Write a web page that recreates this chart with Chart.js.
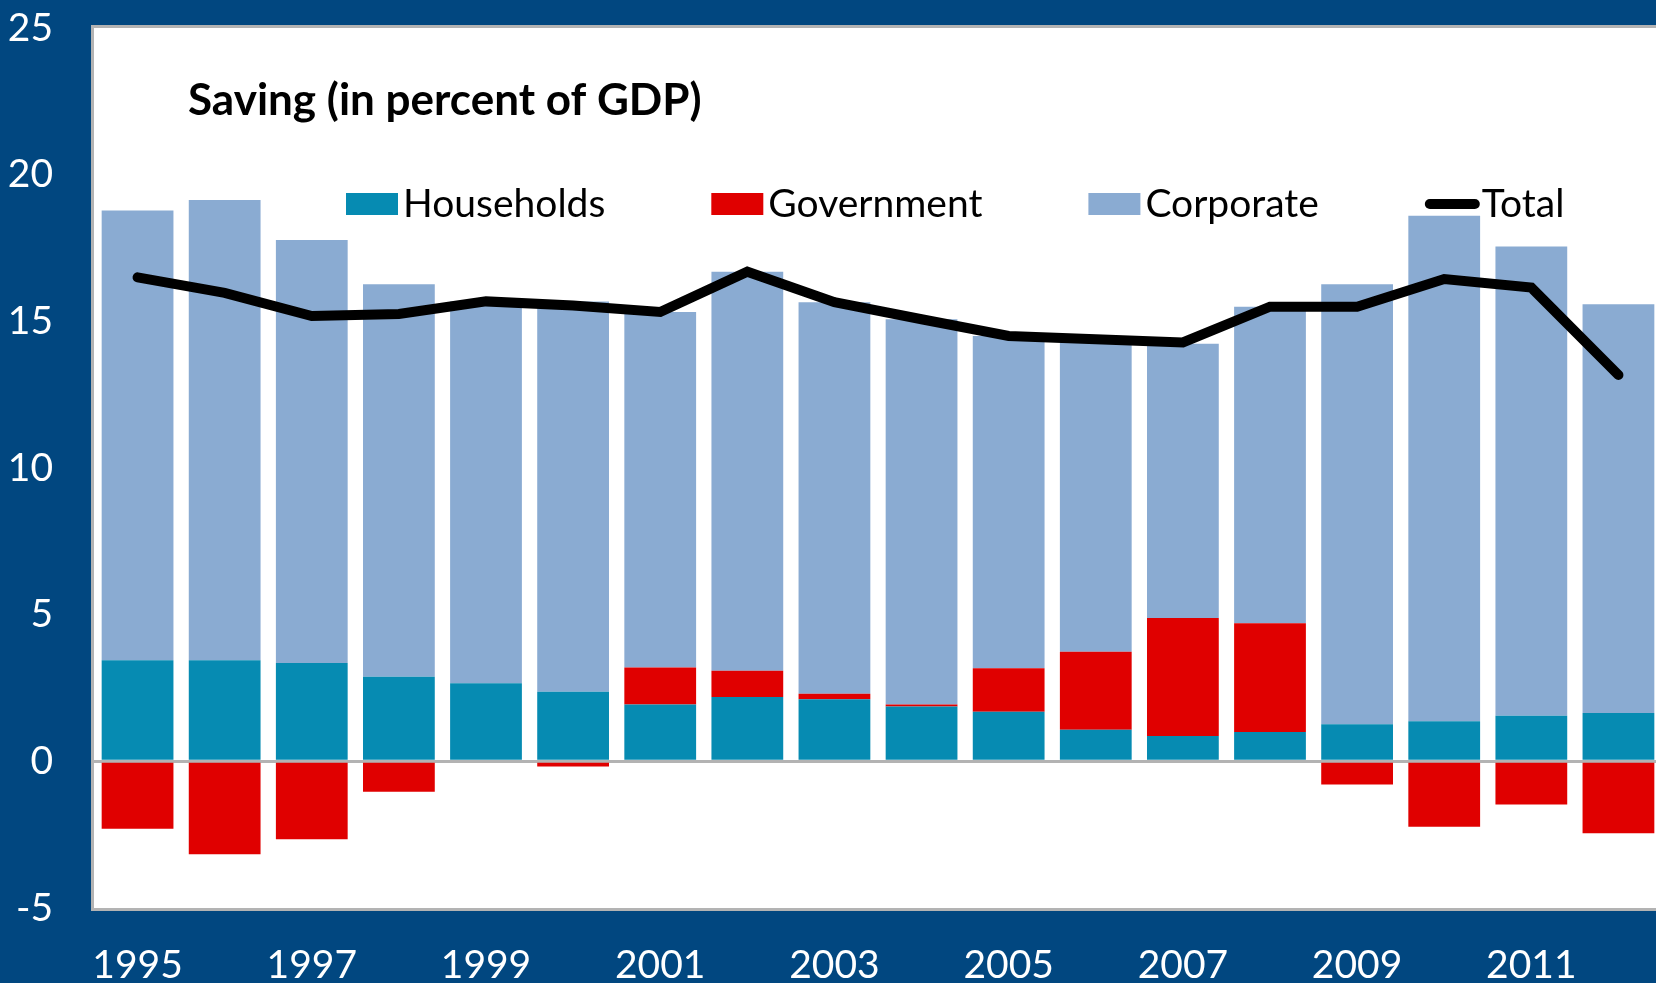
<!DOCTYPE html>
<html>
<head>
<meta charset="utf-8">
<title>Saving (in percent of GDP)</title>
<script src="https://cdn.jsdelivr.net/npm/chart.js@4.4.1/dist/chart.umd.min.js"></script>
<style>
  html, body { margin: 0; padding: 0; background: #014780; overflow: hidden; }
  canvas { display: block; }
</style>
</head>
<body>
<canvas id="savingChart" width="1662" height="983"></canvas>
<script>
// Saving by sector, percent of GDP
const years = ['1995', '1996', '1997', '1998', '1999', '2000', '2001', '2002', '2003',
  '2004', '2005', '2006', '2007', '2008', '2009', '2010', '2011', '2012'];

const households = [3.45, 3.45, 3.35, 2.88, 2.66, 2.37, 1.94, 2.19, 2.12,
  1.87, 1.69, 1.08, 0.86, 1.00, 1.26, 1.37, 1.55, 1.65];
const government = [-2.30, -3.17, -2.66, -1.04, 0.0, -0.18, 1.26, 0.90, 0.18,
  0.07, 1.48, 2.66, 4.03, 3.71, -0.79, -2.23, -1.47, -2.45];
const corporate = [15.33, 15.69, 14.42, 13.38, 13.02, 13.31, 12.12, 13.60, 13.35,
  13.13, 11.33, 10.61, 9.35, 10.79, 15.00, 17.23, 16.00, 13.93];
const total = [16.50, 15.97, 15.18, 15.25, 15.68, 15.54, 15.32, 16.69, 15.65,
  15.07, 14.50, 14.39, 14.28, 15.50, 15.50, 16.44, 16.15, 13.17];

const yTicks = { min: -5, max: 25, step: 5 };
const chartTitle = 'Saving (in percent of GDP)';

const FONT = 'Lato';

// white plot area with a grey frame
const plotFrame = {
  id: 'plotFrame',
  beforeDraw(chart) {
    const { ctx, chartArea: a } = chart;
    ctx.save();
    ctx.fillStyle = '#ffffff';
    ctx.fillRect(a.left, a.top, a.right - a.left, a.bottom - a.top);
    ctx.strokeStyle = '#b3b3b3';
    ctx.lineWidth = 3;
    ctx.strokeRect(a.left - 1.5, a.top - 1.5, a.right - a.left + 3, a.bottom - a.top + 3);
    ctx.restore();
  }
};

// title and legend sit inside the plot area
const chartHeader = {
  id: 'chartHeader',
  afterDraw(chart) {
    const { ctx } = chart;
    ctx.save();
    ctx.textBaseline = 'alphabetic';
    ctx.fillStyle = '#000000';
    ctx.font = `bold 44px ${FONT}`;
    ctx.fillText(chartTitle, 188, 115);

    ctx.font = `39px ${FONT}`;
    let x = 346;
    chart.data.datasets.forEach(ds => {
      if (ds.type === 'line') {
        ctx.strokeStyle = ds.borderColor;
        ctx.lineWidth = 10;
        ctx.lineCap = 'round';
        ctx.beginPath();
        ctx.moveTo(x + 5, 204);
        ctx.lineTo(x + 50, 204);
        ctx.stroke();
      } else {
        ctx.fillStyle = ds.backgroundColor;
        ctx.fillRect(x, 193, 52, 22);
      }
      ctx.fillStyle = '#000000';
      ctx.fillText(ds.label, x + 57, 217);
      x += 57 + ctx.measureText(ds.label).width + 106;
    });
    ctx.restore();
  }
};

function drawChart() {
  const ctx = document.getElementById('savingChart').getContext('2d');

  new Chart(ctx, {
    type: 'bar',
    data: {
      labels: years,
      datasets: [
        { label: 'Households', data: households, backgroundColor: '#068bb2', order: 1 },
        { label: 'Government', data: government, backgroundColor: '#e00000', order: 1 },
        { label: 'Corporate', data: corporate, backgroundColor: '#8aabd2', order: 1 },
        {
          type: 'line',
          label: 'Total',
          data: total,
          borderColor: '#000000',
          borderWidth: 10,
          borderCapStyle: 'round',
          borderJoinStyle: 'miter',
          pointRadius: 0,
          tension: 0,
          fill: false,
          order: 0
        }
      ]
    },
    options: {
      responsive: false,
      animation: false,
      devicePixelRatio: 1,
      layout: { padding: { top: 28, left: 0, right: 0, bottom: 0 } },
      datasets: {
        bar: { categoryPercentage: 1, barPercentage: 0.824, borderWidth: 0 }
      },
      plugins: {
        legend: { display: false },
        title: { display: false },
        tooltip: { enabled: false }
      },
      scales: {
        x: {
          stacked: true,
          grid: { display: false },
          border: { display: false },
          ticks: {
            color: '#ffffff',
            font: { family: FONT, size: 39 },
            autoSkip: false,
            maxRotation: 0,
            padding: 26,
            callback: (value, index) => (index % 2 === 0 ? years[index] : '')
          },
          afterFit(scale) {
            scale.height = 75;
            scale.paddingLeft = 0;
            scale.paddingRight = 0;
          }
        },
        y: {
          stacked: true,
          min: yTicks.min,
          max: yTicks.max,
          z: 1,
          border: { display: false },
          grid: {
            drawTicks: false,
            lineWidth: 3,
            color: c => (c.tick && c.tick.value === 0 ? '#b3b3b3' : 'rgba(0,0,0,0)')
          },
          ticks: {
            stepSize: yTicks.step,
            color: '#ffffff',
            font: { family: FONT, size: 39 },
            padding: 41
          },
          afterFit(scale) {
            scale.width = 94;
            scale.paddingTop = 0;
            scale.paddingBottom = 0;
          }
        }
      }
    },
    plugins: [plotFrame, chartHeader]
  });
}

document.fonts.load(`39px ${FONT}`).then(drawChart, drawChart);
</script>
</body>
</html>
